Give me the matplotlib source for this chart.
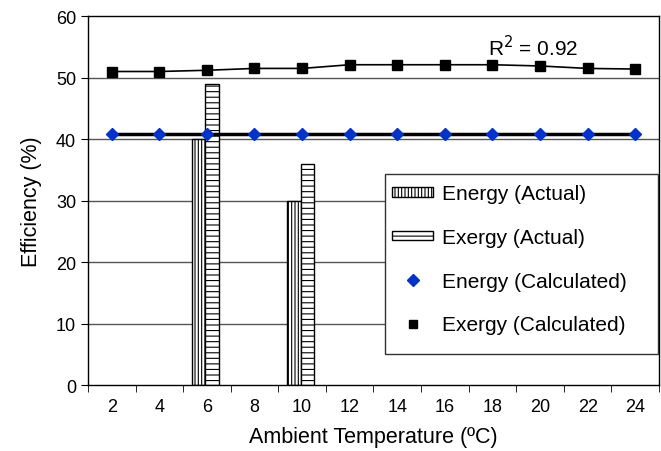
import numpy as np
import matplotlib
matplotlib.use('Agg')
import matplotlib.pyplot as plt
from matplotlib.patches import Patch, Rectangle
from matplotlib.lines import Line2D

plt.rcParams['font.family'] = ['Liberation Sans', 'DejaVu Sans']
plt.rcParams['hatch.linewidth'] = 0.8

# datos
temperaturas = ['2', '4', '6', '8', '10', '12', '14', '16', '18', '20', '22', '24']
energia_calc = [40.8] * 12
exergia_calc = [51.0, 51.0, 51.2, 51.5, 51.5, 52.1, 52.1, 52.1, 52.1, 51.9, 51.5, 51.4]
energia_real = [0, 0, 40, 0, 30, 0, 0, 0, 0, 0, 0, 0]
exergia_real = [0, 0, 49, 0, 36, 0, 0, 0, 0, 0, 0, 0]

x = np.arange(len(temperaturas))
ancho = 0.29

fig = plt.figure(figsize=(6.61, 4.52), dpi=100)
ax = fig.add_axes([0.133, 0.146, 0.864, 0.816])

# lineas de cuadricula
for v in [10, 20, 30, 40, 50]:
    ax.axhline(v, color='#555555', linewidth=1.0, zorder=0)

# barras (solo donde hay datos)
idx = [i for i in x if energia_real[i] > 0]
ax.bar(x[idx] - ancho / 2 - 0.03, [energia_real[i] for i in idx], ancho, color='white',
       edgecolor='black', hatch='|||||', linewidth=1.0, zorder=2)
ax.bar(x[idx] + ancho / 2 - 0.03, [exergia_real[i] for i in idx], ancho, color='white',
       edgecolor='black', hatch='---', linewidth=1.0, zorder=2)

# calculadas
ax.plot(x, energia_calc, color='black', linewidth=2.5, zorder=3)
ax.plot(x, energia_calc, linestyle='none', marker='D', color='#0033cc', markersize=6, zorder=4)
ax.plot(x, exergia_calc, color='black', linewidth=1.2, zorder=3)
ax.plot(x, exergia_calc, linestyle='none', marker='s', color='black', markersize=6.5, zorder=4)

ax.text(8.85, 55.1, 'R$^2$ = 0.92', fontsize=15, ha='center', va='center')

ax.set_xlim(-0.5, len(x) - 0.5)
ax.set_ylim(0, 60)
ax.set_yticks(range(0, 61, 10))
ax.set_xticks(x)
ax.set_xticklabels(temperaturas)
ax.set_xticks(np.arange(-0.5, len(x) + 0.5, 1), minor=True)
ax.tick_params(axis='x', which='major', length=0, labelsize=13, pad=9)
ax.tick_params(axis='x', which='minor', length=5, direction='out')
ax.tick_params(axis='y', labelsize=13, length=5)
for s in ax.spines.values():
    s.set_linewidth(1.0)

ax.set_xlabel('Ambient Temperature (ºC)', fontsize=15.5, labelpad=8)
ax.set_ylabel('Efficiency (%)', fontsize=15.5, labelpad=10)

# marco de la leyenda
ax.add_patch(Rectangle((0.520, 0.084), 0.478, 0.488, transform=ax.transAxes,
                       facecolor='white', edgecolor='#333333', linewidth=1.0, zorder=5))

handles = [
    Patch(facecolor='white', edgecolor='black', hatch='|||||', label='Energy (Actual)'),
    Patch(facecolor='white', edgecolor='black', hatch='---', label='Exergy (Actual)'),
    Line2D([], [], linestyle='none', marker='D', color='#0033cc', markersize=6, label='Energy (Calculated)'),
    Line2D([], [], linestyle='none', marker='s', color='black', markersize=6, label='Exergy (Calculated)'),
]
leg = ax.legend(handles=handles, loc='upper left', bbox_to_anchor=(0.532, 0.544),
                fontsize=15, frameon=False, labelspacing=1.18, handlelength=2.0,
                handleheight=0.35, handletextpad=0.4, borderpad=0, borderaxespad=0)
leg.set_zorder(6)

plt.savefig('out.png', dpi=100)
